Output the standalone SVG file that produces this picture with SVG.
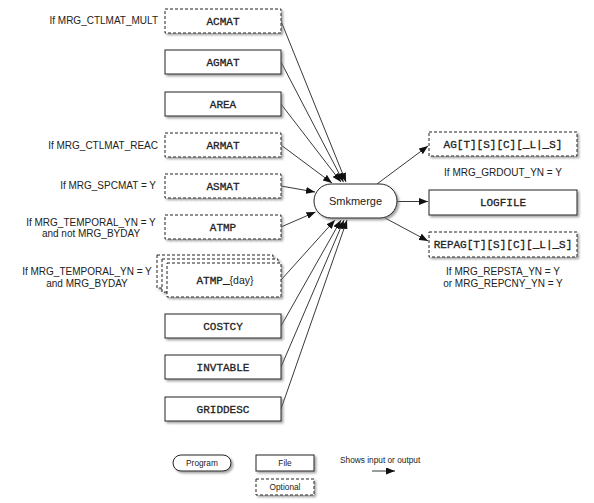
<svg xmlns="http://www.w3.org/2000/svg" width="594" height="503" viewBox="0 0 594 503">
<defs>
<filter id="sh" x="-10%" y="-20%" width="130%" height="160%">
<feDropShadow dx="1.8" dy="1.8" stdDeviation="1" flood-color="#777" flood-opacity="0.7"/>
</filter>
<marker id="ah" viewBox="0 0 9 7" refX="9" refY="3.5" markerWidth="9" markerHeight="7" markerUnits="userSpaceOnUse" orient="auto">
<path d="M0,0 L9,3.5 L0,7 z" fill="#111"/>
</marker>
</defs>
<style>
.box{fill:#fff;stroke:#222;stroke-width:1;filter:url(#sh)}
.opt{fill:#fff;stroke:#222;stroke-width:1;stroke-dasharray:3,2;filter:url(#sh)}
.mono{font-family:"Liberation Mono","Courier New",monospace;font-size:11px;font-weight:normal;fill:#222;stroke:#222;stroke-width:0.3;text-anchor:middle}
.sans{font-family:"Liberation Sans",Arial,sans-serif;font-size:10px;fill:#222}
.mid{text-anchor:middle}
.end{text-anchor:end}
.leg{font-family:"Liberation Sans",Arial,sans-serif;font-size:8.3px;fill:#222}
.cn{stroke:#222;stroke-width:0.9;fill:none;marker-end:url(#ah)}
</style>
<rect width="594" height="503" fill="#fff"/>

<g id="labels">
<text class="sans end" x="158" y="24">If MRG_CTLMAT_MULT</text>
<text class="sans end" x="158" y="148.5">If MRG_CTLMAT_REAC</text>
<text class="sans end" x="156" y="189">If MRG_SPCMAT = Y</text>
<text class="sans mid" x="91" y="226">If MRG_TEMPORAL_YN = Y</text>
<text class="sans mid" x="91" y="237">and not MRG_BYDAY</text>
<text class="sans mid" x="87" y="274.5">If MRG_TEMPORAL_YN = Y</text>
<text class="sans mid" x="87" y="286.5">and MRG_BYDAY</text>
<text class="sans mid" x="503" y="176">If MRG_GRDOUT_YN = Y</text>
<text class="sans mid" x="503" y="275">If MRG_REPSTA_YN = Y</text>
<text class="sans mid" x="503" y="287">or MRG_REPCNY_YN = Y</text>
</g>

<g id="connectors">
<line class="cn" x1="281" y1="21" x2="346" y2="182"/>
<line class="cn" x1="281" y1="62" x2="343.5" y2="182"/>
<line class="cn" x1="281" y1="104" x2="341" y2="182"/>
<line class="cn" x1="281" y1="145" x2="332" y2="183"/>
<line class="cn" x1="281" y1="186" x2="315" y2="192"/>
<line class="cn" x1="281" y1="227" x2="315.5" y2="212"/>
<line class="cn" x1="281" y1="280" x2="335" y2="220"/>
<line class="cn" x1="281" y1="326" x2="341" y2="220"/>
<line class="cn" x1="281" y1="367" x2="344" y2="220"/>
<line class="cn" x1="281" y1="409" x2="347" y2="220"/>
<line class="cn" x1="377" y1="184" x2="428" y2="146"/>
<line class="cn" x1="397" y1="201.5" x2="428" y2="201.5"/>
<line class="cn" x1="385" y1="218" x2="428" y2="241"/>
</g>

<g id="ACMAT"><rect class="opt" x="165" y="9" width="116" height="24"/><text class="mono" x="223" y="25">ACMAT</text></g>
<g id="AGMAT"><rect class="box" x="165" y="50" width="116" height="24"/><text class="mono" x="223" y="66">AGMAT</text></g>
<g id="AREA"><rect class="box" x="165" y="92" width="116" height="24"/><text class="mono" x="223" y="108">AREA</text></g>
<g id="ARMAT"><rect class="opt" x="165" y="133" width="116" height="24"/><text class="mono" x="223" y="149">ARMAT</text></g>
<g id="ASMAT"><rect class="opt" x="165" y="174" width="116" height="24"/><text class="mono" x="223" y="190">ASMAT</text></g>
<g id="ATMP"><rect class="opt" x="165" y="215" width="116" height="24"/><text class="mono" x="223" y="231">ATMP</text></g>
<g id="ATMP_day">
<rect class="opt" x="157" y="255" width="116" height="33"/>
<rect class="opt" x="162" y="259" width="116" height="33"/>
<rect class="opt" x="167" y="263" width="114" height="34"/>
<text class="mono" x="225" y="284">ATMP_<tspan style="font-family:'Liberation Sans',Arial,sans-serif;stroke:none;font-size:10.5px">{day}</tspan></text>
</g>
<g id="COSTCY"><rect class="box" x="165" y="314" width="116" height="24"/><text class="mono" x="223" y="330">COSTCY</text></g>
<g id="INVTABLE"><rect class="box" x="165" y="355" width="116" height="24"/><text class="mono" x="223" y="371">INVTABLE</text></g>
<g id="GRIDDESC"><rect class="box" x="165" y="397" width="116" height="24"/><text class="mono" x="223" y="413">GRIDDESC</text></g>

<g id="Smkmerge"><rect class="box" x="314" y="184" width="83" height="34" rx="17" ry="17"/><text class="sans mid" x="355.5" y="205" style="font-size:11px">Smkmerge</text></g>

<g id="AG"><rect class="opt" x="429" y="132" width="148" height="24"/><text class="mono" x="503" y="148">AG[T][S][C][_L|_S]</text></g>
<g id="LOGFILE"><rect class="box" x="429" y="190" width="148" height="25"/><text class="mono" x="503" y="206">LOGFILE</text></g>
<g id="REPAG"><rect class="opt" x="429" y="232" width="148" height="25"/><text class="mono" x="503" y="248">REPAG[T][S][C][_L|_S]</text></g>

<g id="legend">
<rect class="box" x="173" y="455" width="58" height="16" rx="8" ry="8"/>
<text class="leg mid" x="202" y="466">Program</text>
<rect class="box" x="256" y="455" width="58" height="16"/>
<text class="leg mid" x="285" y="466">File</text>
<rect class="opt" x="256" y="479" width="58" height="16"/>
<text class="leg mid" x="285" y="490">Optional</text>
<text class="leg" x="340" y="463">Shows input or output</text>
<line class="cn" x1="372" y1="471" x2="395" y2="471"/>
</g>
</svg>
